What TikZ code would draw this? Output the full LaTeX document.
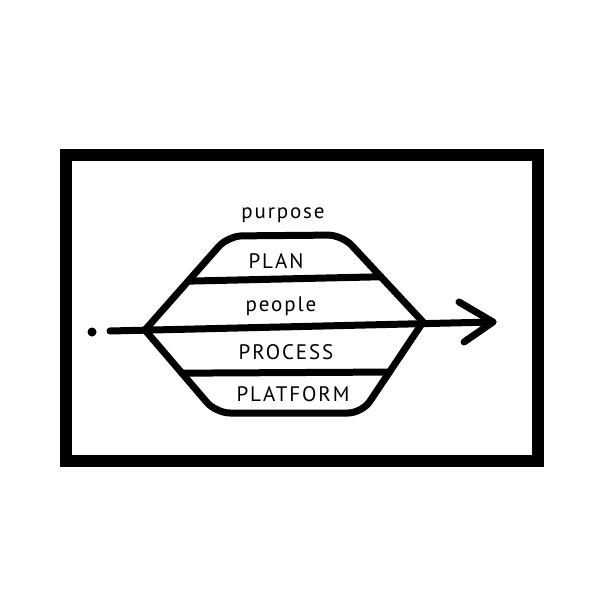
\documentclass[tikz,border=0pt]{standalone}
\usepackage{fontspec}
\setmainfont{PT Sans}
\usetikzlibrary{calc}
\tikzset{
  frameline/.style={line width=12pt},
  shapeline/.style={line width=7pt,line cap=round,line join=round},
  layer/.style={font=\fontsize{21}{23}\selectfont\addfontfeature{LetterSpace=9}}
}
\begin{document}
\begin{tikzpicture}[x=1pt,y=-1pt]
\useasboundingbox (0,0) rectangle (591,591);
\draw[frameline] (66,155) rectangle (538,461);

\coordinate (L) at (145,330);
\coordinate (R) at (423,322);
\coordinate (tl) at (228,236);
\coordinate (tr) at (342,235);
\coordinate (bl) at (216,413);
\coordinate (br) at (362,413);
\coordinate (start) at (110,331);
\coordinate (tip) at (493,322);
\coordinate (armup) at (459,302);
\coordinate (armdown) at (464,342);

\draw[shapeline,rounded corners=14pt] (L) -- (tl) -- (tr) -- (R);
\draw[shapeline,rounded corners=14pt] (L) -- (bl) -- (br) -- (R);
\draw[shapeline] ($(L)!.52!(tl)$) -- ($(R)!.52!(tr)$);
\draw[shapeline] ($(L)!.52!(bl)$) -- ($(R)!.55!(br)$);
\draw[shapeline] (start) -- (tip);
\draw[shapeline] (armup) -- (tip) -- (armdown);
\fill (92,332) circle (4.5);

\node[layer] (purpose) at (283,215) {purpose};
\node[layer] (plan) at (276,261) {PLAN};
\node[layer] (people) at (281,306) {people};
\node[layer] (process) at (286,352) {PROCESS};
\node[layer] (platform) at (293,394) {PLATFORM};

\end{tikzpicture}
\end{document}
